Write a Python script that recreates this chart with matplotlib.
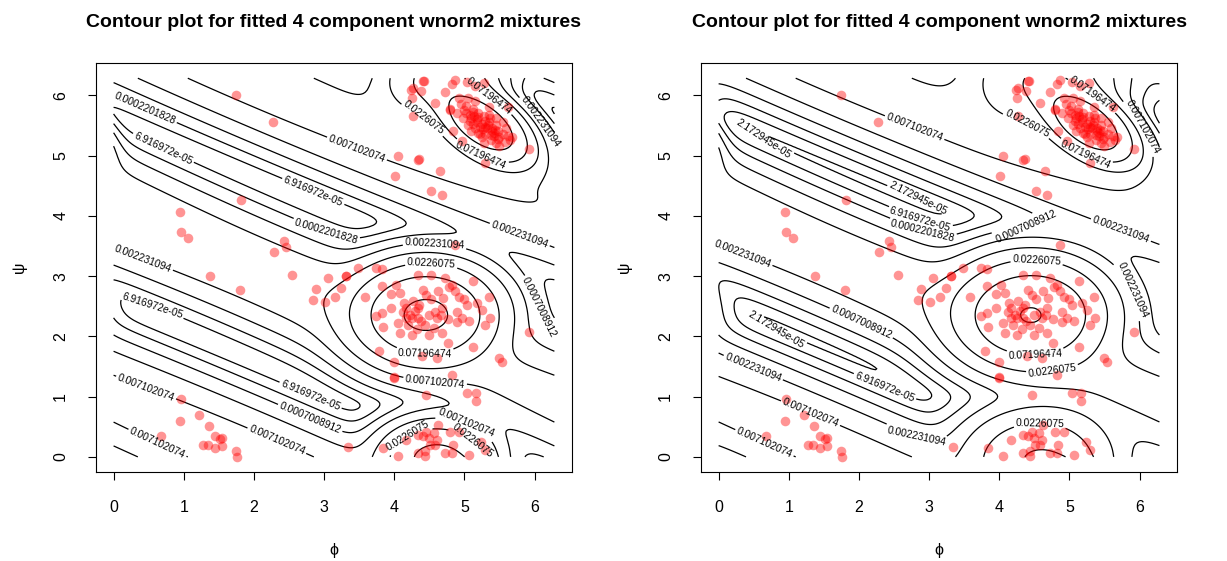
import numpy as np
import matplotlib
matplotlib.use("Agg")
import matplotlib.pyplot as plt

plt.rcParams["font.family"] = ["Liberation Sans", "DejaVu Sans"]

TWO_PI = 2 * np.pi

# ---------------------------------------------------------------------------
# observed (phi, psi) angle pairs, read off the picture (same in both panels)
# ---------------------------------------------------------------------------
phi_scatter = [1.75, 2.27, 1.81, 0.95, 0.96, 1.06, 2.43, 2.46, 2.28,
               4.06, 4.34, 4.36, 4.01, 4.65, 4.53, 4.68, 5.92, 5.30, 4.87,
               1.38, 1.80, 2.55, 3.06, 2.89, 2.84, 3.02, 3.16,
               0.96, 0.95, 1.22, 1.36, 0.67, 1.45, 1.55, 1.52, 1.27, 1.34,
               1.44, 1.55, 1.75, 1.76,
               5.92, 5.04, 5.16, 5.16, 4.46, 4.00, 3.34, 3.31]
psi_scatter = [6.00, 5.55, 4.27, 4.06, 3.73, 3.64, 3.59, 3.49, 3.40,
               4.99, 4.93, 4.94, 4.66, 4.75, 4.41, 4.35, 5.11, 4.87, 3.52,
               3.00, 2.77, 3.01, 2.96, 2.79, 2.61, 2.57, 2.66,
               0.96, 0.60, 0.70, 0.51, 0.35, 0.35, 0.32, 0.30, 0.20, 0.20,
               0.14, 0.18, 0.10, 0.00,
               2.08, 1.06, 1.06, 0.92, 1.03, 1.31, 0.17, 3.00]

phi_top = [4.87, 5.04, 5.28, 4.43, 4.27, 4.25, 4.38, 4.58, 4.27, 4.72,
           4.82, 5.15, 5.62, 5.68, 4.79, 4.41, 4.24, 4.80, 4.84, 4.96,
           5.25, 5.10, 5.00, 4.95, 5.40, 5.50, 5.55, 5.35, 5.20, 5.15,
           5.30, 5.45, 5.05, 5.60, 5.38, 5.20, 5.12, 5.28, 4.98, 5.45,
           5.32, 5.18, 5.42, 5.58, 5.08, 5.25, 5.35, 4.90, 5.15, 5.05,
           5.50, 5.62, 5.22, 5.30, 5.40, 5.10, 5.48, 5.02, 5.55, 5.28,
           4.92, 5.35, 5.12, 5.65, 5.45, 5.18, 5.26, 5.34, 5.42, 5.08,
           5.14, 5.22, 5.36, 5.48, 5.02, 5.30, 5.20, 5.44, 5.12, 5.38]
psi_top = [6.26, 6.22, 6.20, 6.24, 6.12, 5.96, 6.07, 5.88, 5.65, 6.05,
           6.18, 6.15, 5.80, 5.30, 5.76, 6.23, 6.09, 5.77, 5.41, 5.24,
           5.52, 5.62, 5.75, 5.85, 5.40, 5.30, 5.35, 5.55, 5.70, 5.45,
           5.35, 5.50, 5.50, 5.45, 5.25, 5.38, 5.78, 5.65, 5.62, 5.62,
           5.45, 5.55, 5.32, 5.22, 5.68, 5.30, 5.68, 5.70, 5.90, 5.95,
           5.15, 5.32, 5.48, 5.58, 5.45, 5.40, 5.40, 5.82, 5.55, 5.20,
           5.95, 5.80, 5.52, 5.25, 5.20, 5.60, 5.44, 5.50, 5.38, 5.58,
           5.66, 5.36, 5.62, 5.28, 5.70, 5.48, 5.64, 5.42, 5.72, 5.34]

phi_mid = [3.31, 3.48, 3.74, 3.82, 3.58, 3.82, 4.03, 4.08, 4.34, 4.53,
           4.72, 4.86, 4.92, 5.13, 5.35, 5.04, 5.25, 5.37, 5.30, 3.82,
           3.74, 3.96, 4.17, 4.34, 4.49, 4.68, 4.77, 4.96, 5.06, 3.84,
           4.08, 4.25, 4.49, 4.68, 4.89, 3.79, 4.00, 4.39, 4.61, 4.77,
           5.13, 5.49, 5.54, 4.00, 4.82, 4.17, 4.27, 4.41, 4.63, 4.82,
           4.34, 4.61, 4.20, 4.44, 3.24, 4.22, 4.30, 4.38, 4.12, 4.52,
           4.58, 4.26, 4.36, 4.46, 4.70, 4.14, 4.05, 4.90, 5.00, 4.78,
           4.56, 4.66, 4.32, 3.95, 5.18]
psi_mid = [3.00, 3.13, 3.13, 3.11, 2.66, 2.83, 2.86, 2.72, 3.02, 3.02,
           2.97, 2.75, 2.66, 2.91, 2.66, 2.52, 2.44, 2.31, 2.19, 2.39,
           2.33, 2.47, 2.31, 2.31, 2.36, 2.47, 2.28, 2.31, 2.25, 2.16,
           2.06, 2.03, 2.03, 2.06, 2.23, 1.75, 1.58, 1.67, 1.64, 1.89,
           1.83, 1.64, 1.58, 1.33, 1.36, 2.47, 2.58, 2.77, 2.75, 2.86,
           2.47, 2.31, 2.19, 2.19, 2.80, 2.36, 2.42, 2.26, 2.40, 2.62,
           2.40, 2.30, 2.52, 2.68, 2.64, 2.56, 2.22, 2.40, 2.62, 2.82,
           2.14, 2.36, 2.12, 2.70, 2.56]

phi_bottom = [3.84, 4.06, 4.17, 4.34, 4.46, 4.56, 4.61, 4.49, 4.41, 4.51,
              4.58, 4.34, 4.44, 4.44, 4.72, 4.82, 4.84, 4.80, 4.92, 5.06,
              5.23, 5.30, 4.63]
psi_bottom = [0.14, 0.02, 0.28, 0.36, 0.42, 0.39, 0.28, 0.31, 0.34, 0.20,
              0.20, 0.06, 0.02, 0.09, 0.06, 0.06, 0.20, 0.42, 0.42, 0.03,
              0.25, 0.12, 0.53]

phi_obs = phi_scatter + phi_top + phi_mid + phi_bottom
psi_obs = psi_scatter + psi_top + psi_mid + psi_bottom

# ---------------------------------------------------------------------------
# fitted 4 component wnorm2 mixtures (one parameter set per panel)
# ---------------------------------------------------------------------------
left_weight = [0.30, 0.31, 0.07, 0.12]
left_mu_phi = [5.25, 4.455, 4.60, 2.0]
left_mu_psi = [5.52, 2.36, -0.05, 6.26]
left_sd_major = [0.38, 0.46, 0.38, 4.0]
left_sd_minor = [0.20, 0.38, 0.30, 0.40]
left_angle = [-43.0, 0.0, 0.0, -26.57]

right_weight = [0.30, 0.31, 0.09, 0.11]
right_mu_phi = [5.25, 4.455, 4.55, 1.6]
right_mu_psi = [5.52, 2.36, -0.05, 6.45]
right_sd_major = [0.38, 0.50, 0.50, 4.0]
right_sd_minor = [0.20, 0.42, 0.40, 0.385]
right_angle = [-43.0, 0.0, 0.0, -26.57]

contour_levels = [2.172945e-05, 6.916972e-05, 0.0002201828, 0.0007008912,
                  0.002231094, 0.007102074, 0.0226075, 0.07196474,
                  0.2290800, 0.7292137]
level_labels = ["2.172945e-05", "6.916972e-05", "0.0002201828", "0.0007008912",
                "0.002231094", "0.007102074", "0.0226075", "0.07196474",
                "0.22908", "0.7292137"]

# where the contour labels sit in each panel (layout only)
label_spots_left = [(0.46, 5.82), (0.70, 5.10), (2.80, 4.27), (3.05, 3.80),
                    (0.46, 3.41), (3.48, 5.15), (4.44, 5.65), (5.25, 5.04),
                    (5.35, 5.98), (6.06, 5.54), (5.78, 3.66), (4.58, 3.60),
                    (4.53, 3.22), (6.02, 2.47), (4.44, 1.75), (4.58, 1.22),
                    (2.80, 1.00), (2.80, 0.64), (0.51, 2.39), (0.46, 1.14),
                    (0.60, 0.17), (2.32, 0.25), (5.06, 0.64), (5.06, 0.20),
                    (4.22, 0.28)]
label_spots_right = [(2.84, 5.60), (0.64, 5.27), (2.84, 4.27), (2.89, 3.99),
                     (2.89, 3.69), (0.44, 3.66), (4.44, 5.63), (5.20, 4.96),
                     (5.35, 6.04), (6.07, 5.49), (5.78, 3.91), (4.39, 3.74),
                     (4.54, 3.36), (5.87, 2.75), (4.51, 1.83), (4.75, 1.50),
                     (4.58, 0.64), (0.83, 2.14), (2.02, 2.19), (2.40, 1.25),
                     (2.84, 0.42), (0.49, 1.47), (1.30, 0.70), (0.64, 0.20)]


def wnorm2_mixture(x, y, weight, mu_phi, mu_psi, sd_major, sd_minor, angle):
    dens = np.zeros_like(x)
    shifts = np.arange(-3, 4) * TWO_PI
    for w, m1, m2, sa, sb, ang in zip(weight, mu_phi, mu_psi,
                                      sd_major, sd_minor, angle):
        t = np.deg2rad(ang)
        u = np.array([np.cos(t), np.sin(t)])
        v = np.array([-np.sin(t), np.cos(t)])
        cov = sa ** 2 * np.outer(u, u) + sb ** 2 * np.outer(v, v)
        prec = np.linalg.inv(cov)
        norm = w / (TWO_PI * np.sqrt(np.linalg.det(cov)))
        for s1 in shifts:
            for s2 in shifts:
                dx = x - m1 + s1
                dy = y - m2 + s2
                q = prec[0, 0] * dx * dx + 2 * prec[0, 1] * dx * dy + prec[1, 1] * dy * dy
                dens += norm * np.exp(-0.5 * q)
    return dens


grid = np.linspace(0, TWO_PI, 220)
gx, gy = np.meshgrid(grid, grid)
dens_left = wnorm2_mixture(gx, gy, left_weight, left_mu_phi, left_mu_psi,
                           left_sd_major, left_sd_minor, left_angle)
dens_right = wnorm2_mixture(gx, gy, right_weight, right_mu_phi, right_mu_psi,
                            right_sd_major, right_sd_minor, right_angle)

fig = plt.figure(figsize=(12.27, 5.61), dpi=100)
ax_left = fig.add_axes([0.0782, 0.1586, 0.388, 0.729])
ax_right = fig.add_axes([0.5713, 0.1586, 0.388, 0.729])

lim = (-0.04 * TWO_PI, 1.04 * TWO_PI)
fmt = dict(zip(contour_levels, level_labels))

panels = ((ax_left, dens_left, label_spots_left),
          (ax_right, dens_right, label_spots_right))
for ax, dens, spots in panels:
    ax.set_xlim(lim)
    ax.set_ylim(lim)
    cs = ax.contour(gx, gy, dens, levels=contour_levels, colors="black",
                    linewidths=0.9)
    ax.clabel(cs, levels=contour_levels[:8], fmt=fmt, fontsize=7.4,
              inline=True, inline_spacing=2, manual=spots)
    ax.scatter(phi_obs, psi_obs, s=48, color="red", alpha=0.42,
               linewidths=0, zorder=3)
    ax.set_xticks(range(7))
    ax.set_yticks(range(7))
    ax.tick_params(length=6, width=0.8, labelsize=11.5, pad=14)
    plt.setp(ax.get_yticklabels(), rotation=90, va="center")
    for sp in ax.spines.values():
        sp.set_linewidth(0.8)
    ax.set_xlabel("ϕ", fontsize=11.5, labelpad=20)
    ax.set_ylabel("ψ", fontsize=11.5, labelpad=19)
    ax.set_title("Contour plot for fitted 4 component wnorm2 mixtures",
                 fontsize=14, fontweight="bold", pad=26)

fig.savefig("out.png", dpi=100)
